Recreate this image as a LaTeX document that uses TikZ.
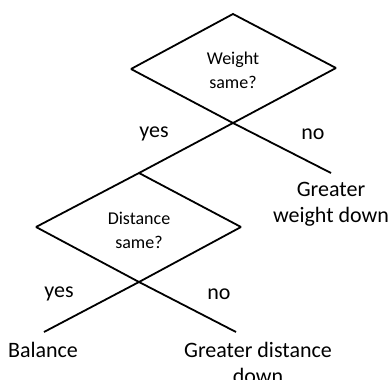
\documentclass[tikz,border=0pt]{standalone}
\usepackage{fontspec}
\setmainfont{Carlito}
\tikzset{
  question/.style={font=\fontsize{18}{24}\selectfont,align=center,inner sep=0pt},
  answer/.style={font=\fontsize{22}{25}\selectfont,inner sep=0pt},
  outcome/.style={font=\fontsize{22}{26}\selectfont,align=center,inner sep=0pt}
}

\begin{document}
\begin{tikzpicture}[x=1pt,y=-1pt,line width=1.8pt,line join=miter]
  \useasboundingbox (0,0) rectangle (392,380);
  \clip (0,0) rectangle (392,380);
  \coordinate (T1) at (233,14);
  \coordinate (L1) at (131,69);
  \coordinate (R1) at (336,68);
  \coordinate (X1) at (233,123);
  \coordinate (E1) at (331,173);
  \coordinate (T2) at (139,173);
  \coordinate (L2) at (36,227);
  \coordinate (R2) at (241,227);
  \coordinate (X2) at (139,282);
  \coordinate (E2) at (44,332);
  \coordinate (E3) at (236,332);

  \draw (L1) -- (T1) -- (R1);
  \draw (L1) -- (X1) -- (E1);
  \draw (R1) -- (X1) -- (T2) -- (L2);
  \draw (T2) -- (R2);
  \draw (L2) -- (X2) -- (E3);
  \draw (R2) -- (X2) -- (E2);

  \node[question] (qweight) at (233,70) {Weight\\same?};
  \node[question] (qdist)   at (139,230) {Distance\\same?};
  \node[answer]   (yes1)    at (154,134) {yes};
  \node[answer]   (no1)     at (313,134) {no};
  \node[answer]   (yes2)    at (59,294)  {yes};
  \node[answer]   (no2)     at (219,294) {no};
  \node[outcome]  (wdown)   at (331,204) {Greater\\weight down};
  \node[outcome]  (balance) at (43,350)  {Balance};
  \node[outcome]  (ddown)   at (258,363) {Greater distance\\down};
\end{tikzpicture}
\end{document}
